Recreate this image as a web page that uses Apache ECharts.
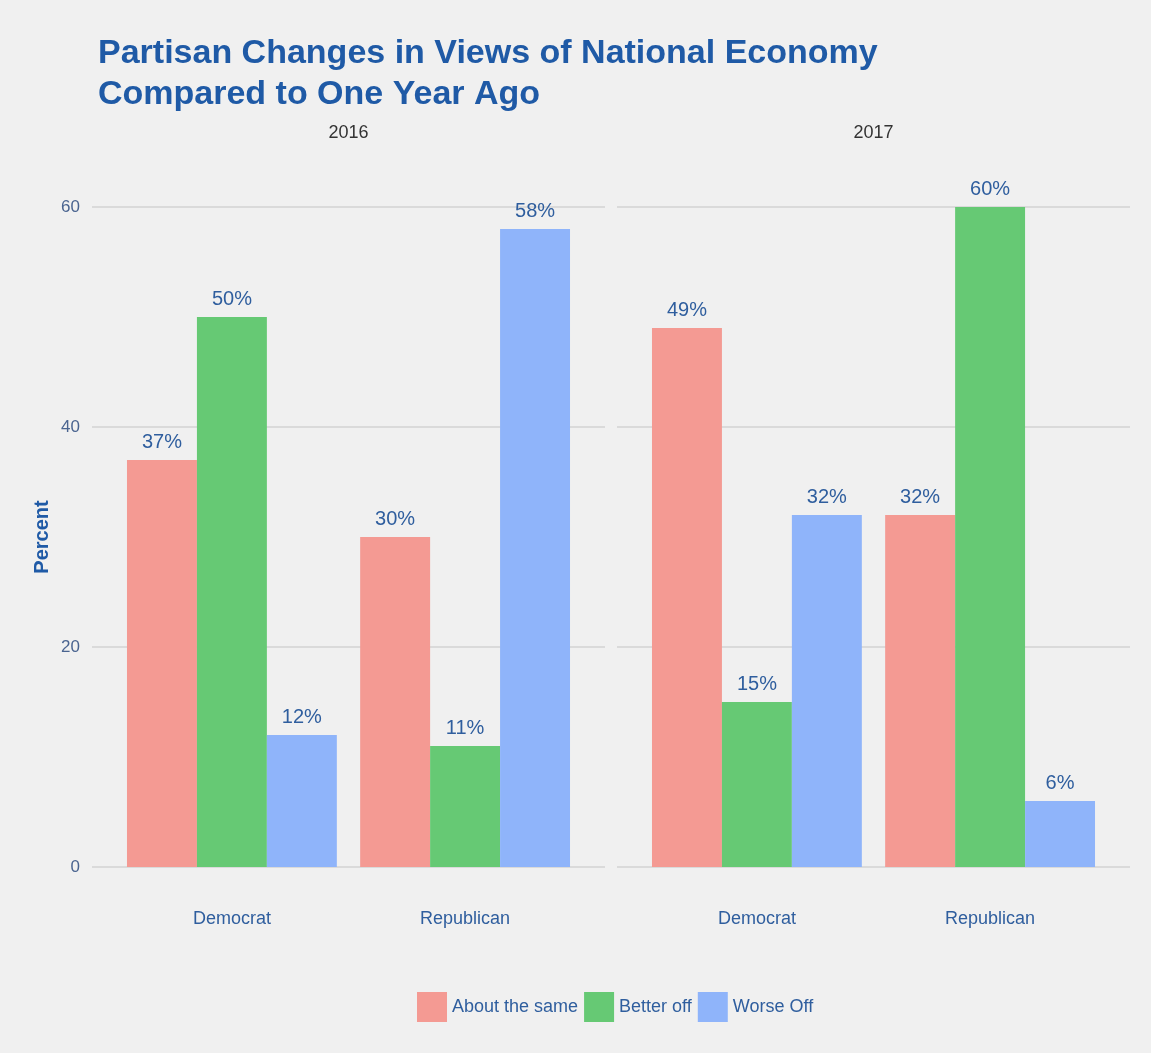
<!DOCTYPE html>
<html>
<head>
<meta charset="utf-8">
<script src="https://cdn.jsdelivr.net/npm/echarts@6/dist/echarts.min.js"></script>
<style>
html,body{margin:0;padding:0;background:#f0f0f0;}
#chart{width:1151px;height:1053px;}
</style>
</head>
<body>
<div id="chart"></div>
<script>
const categories = ['Democrat', 'Republican'];
const years = ['2016', '2017'];
const seriesNames = ['About the same', 'Better off', 'Worse Off'];
const about2016 = [37, 30];
const better2016 = [50, 11];
const worse2016 = [12, 58];
const about2017 = [49, 32];
const better2017 = [15, 60];
const worse2017 = [32, 6];
const yTicks = [0, 20, 40, 60];

const colors = ['#F49A93', '#66C974', '#8FB4FA'];
const font = 'Liberation Sans, Arial, sans-serif';

const chart = echarts.init(document.getElementById('chart'));

const panelTop = 207, panelH = 660, panelW = 513;
const panelLeft = [92, 617];
const unit = panelW / 2.2;

const grids = [];
const xAxes = [];
const yAxes = [];
panelLeft.forEach((l, i) => {
  grids.push({left: l, top: panelTop, width: panelW, height: panelH, containLabel: false});
  xAxes.push({type: 'value', gridIndex: i, min: 0, max: 1, show: false});
  yAxes.push({
    type: 'value', gridIndex: i, min: yTicks[0], max: yTicks[yTicks.length - 1], interval: 20,
    axisLine: {show: false}, axisTick: {show: false},
    axisLabel: {show: i === 0, color: '#4a6490', fontSize: 17, fontFamily: font, margin: 12},
    splitLine: {lineStyle: {color: '#d3d3d3', width: 1.5}},
    name: i === 0 ? 'Percent' : '', nameLocation: 'middle', nameGap: 40,
    nameTextStyle: {color: '#1f5aa6', fontSize: 20, fontWeight: 'bold', fontFamily: font}
  });
});
panelLeft.forEach((l, i) => {
  grids.push({left: l + 0.1 * unit, top: panelTop, width: 2 * unit, height: panelH});
  xAxes.push({
    type: 'category', gridIndex: 2 + i, data: categories,
    axisLine: {show: false}, axisTick: {show: false},
    axisLabel: {color: '#2f5e9e', fontSize: 18, fontFamily: font, margin: 43}
  });
  yAxes.push({type: 'value', gridIndex: 2 + i, min: 0, max: 60, show: false});
});

const dataByYear = [[about2016, better2016, worse2016], [about2017, better2017, worse2017]];
const series = [];
dataByYear.forEach((sets, yi) => {
  sets.forEach((vals, si) => {
    series.push({
      type: 'bar', name: seriesNames[si], xAxisIndex: 2 + yi, yAxisIndex: 2 + yi,
      data: vals, barGap: '0%', barCategoryGap: '10%',
      itemStyle: {color: colors[si]},
      label: {show: true, position: 'top', distance: 8, formatter: '{c}%',
        color: '#2f5e9e', fontSize: 20, fontFamily: font}
    });
  });
});

chart.setOption({
  backgroundColor: '#f0f0f0',
  animation: false,
  title: [
    {text: 'Partisan Changes in Views of National Economy\nCompared to One Year Ago', left: 93, top: 28,
      textStyle: {color: '#1f5aa6', fontSize: 34, fontWeight: 'bold', fontFamily: font, lineHeight: 41}}
  ],
  graphic: years.map((y, i) => ({
    type: 'text', left: panelLeft[i] + panelW / 2 - 20, top: 124,
    style: {text: y, fill: '#333', font: '18px ' + font}
  })),
  legend: {
    data: seriesNames, left: 412, top: 987, itemWidth: 30, itemHeight: 30, itemGap: 6,
    icon: 'rect', textStyle: {color: '#2f5e9e', fontSize: 18, fontFamily: font}
  },
  grid: grids, xAxis: xAxes, yAxis: yAxes, series: series
});
</script>
</body>
</html>
